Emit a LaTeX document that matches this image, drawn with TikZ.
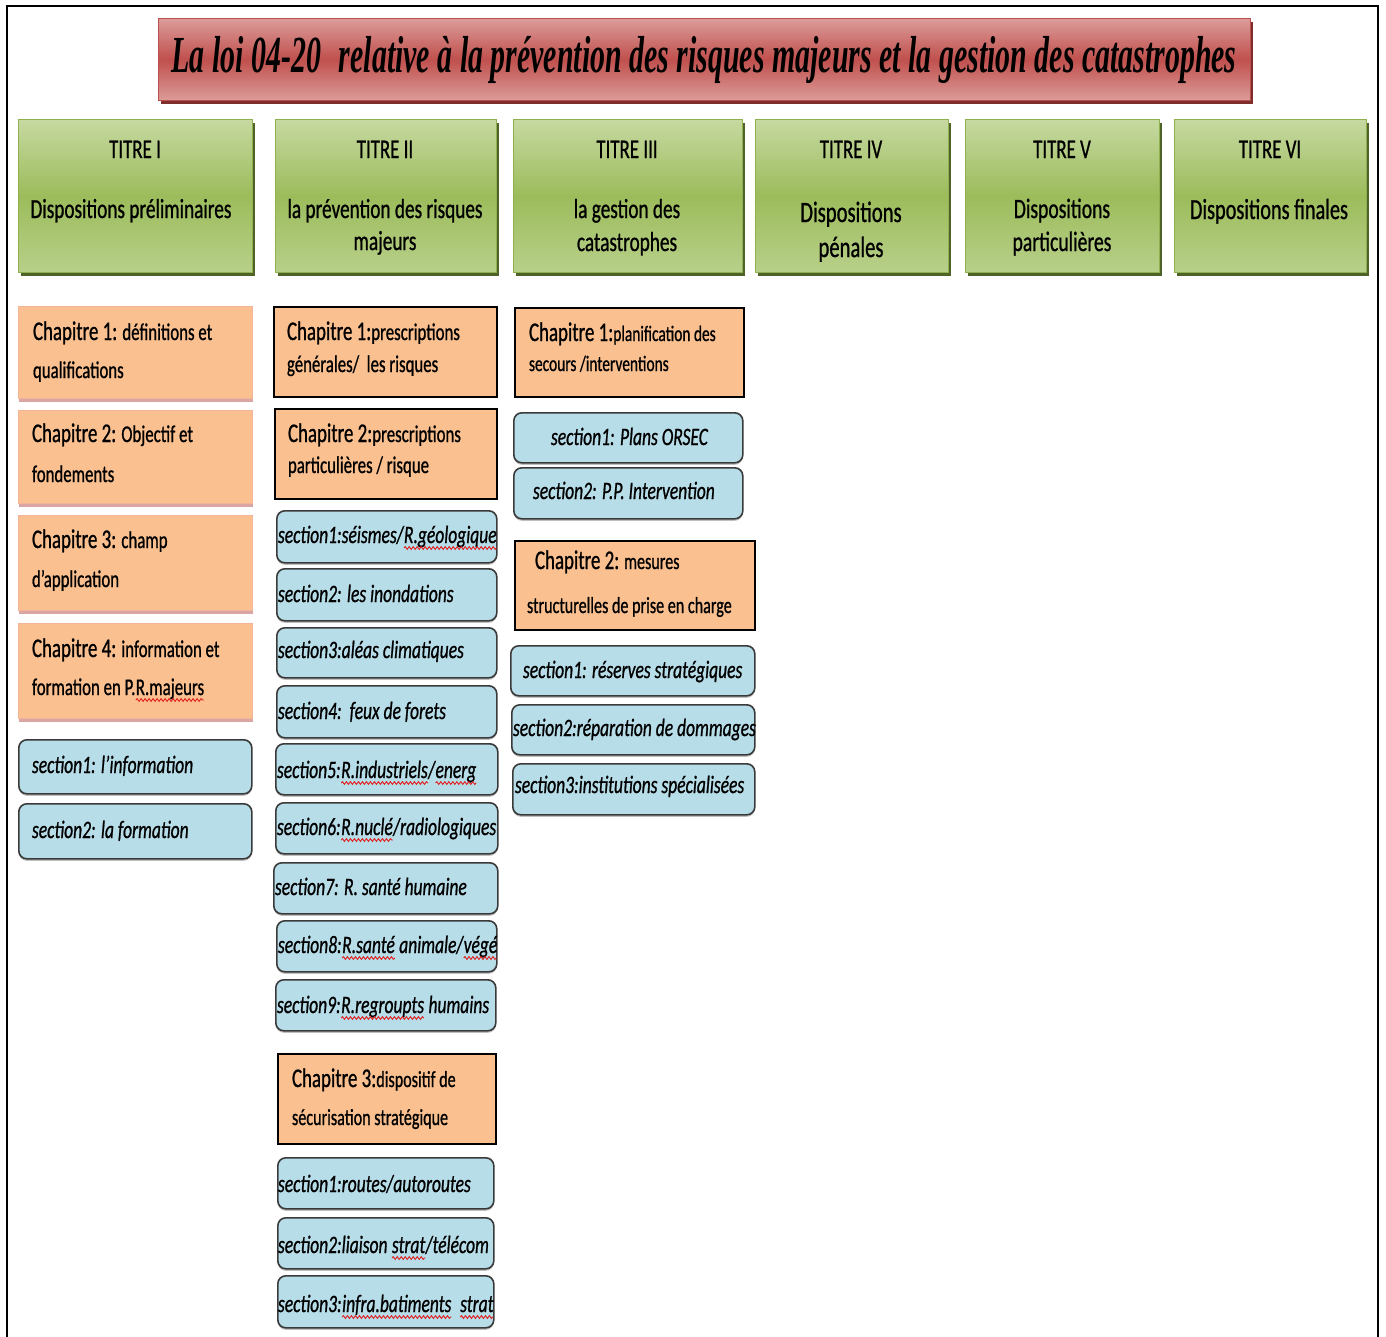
\documentclass[tikz,border=0pt]{standalone}
\usepackage{fontspec}
\usepackage{graphicx}
\setmainfont{Carlito}[FakeStretch=0.7,FakeBold=0.8]
\newfontfamily\headfont{Liberation Serif}
\usetikzlibrary{shadows,decorations.pathmorphing}

\definecolor{headlight}{HTML}{DC9C9A}
\definecolor{headmid}{HTML}{C0504D}
\definecolor{headedge}{HTML}{B9504D}
\definecolor{headshade}{HTML}{7F2E2C}
\definecolor{partlight}{HTML}{C6D9A1}
\definecolor{partmid}{HTML}{9CBC5B}
\definecolor{partlow}{HTML}{B8D08A}
\definecolor{partedge}{HTML}{8FB04F}
\definecolor{partshade}{HTML}{4F6228}
\definecolor{chapfill}{HTML}{FAC090}
\definecolor{chapedge}{HTML}{F3B49A}
\definecolor{chapshade}{HTML}{D9A6A4}
\definecolor{secfill}{HTML}{B7DDE8}
\definecolor{secedge}{HTML}{3A3A3A}
\definecolor{spellred}{HTML}{E02020}

% font size / line spacing shortcut
\newcommand\sz[2]{\fontsize{#1}{#2}\selectfont}
% word marked with a red wavy underline
\newcommand\spell[1]{\tikz[baseline=(spw.base)]{\node[inner sep=0pt,outer sep=0pt] (spw) {#1};\draw[spellred,line width=0.9pt,decorate,decoration={snake,amplitude=1.4pt,segment length=4pt}] ([yshift=-5pt]spw.base west) -- ([yshift=-5pt]spw.base east);}}
% box given by its corners: style, name, x1, y1, x2, y2
\newcommand\boxat[6]{\node[#1, minimum width={#5-#3}, minimum height={#6-#4}] (#2) at (#3,#4) {};}

\tikzset{
  headbar/.style={rectangle, inner sep=0pt, anchor=north west, draw=headedge, line width=1pt,
    top color=headlight, bottom color=headlight, middle color=headmid,
    drop shadow={shadow xshift=2pt, shadow yshift=-3pt, fill=headshade, opacity=1}},
  partbox/.style={rectangle, inner sep=0pt, anchor=north west, draw=partedge, line width=1pt,
    top color=partlight, bottom color=partlow, middle color=partmid,
    drop shadow={shadow xshift=2pt, shadow yshift=-3pt, fill=partshade, opacity=1}},
  chapsoft/.style={rectangle, inner sep=0pt, anchor=north west, fill=chapfill, draw=chapedge, line width=0.8pt,
    drop shadow={shadow xshift=1pt, shadow yshift=-4pt, fill=chapshade, opacity=1}},
  chapline/.style={rectangle, inner sep=0pt, anchor=north west, fill=chapfill, draw=black, line width=1.6pt},
  secbox/.style={rectangle, rounded corners=8pt, inner sep=0pt, anchor=north west, fill=secfill, draw=secedge, line width=1.6pt,
    drop shadow={shadow xshift=0pt, shadow yshift=-2pt, fill=black!25, opacity=1}},
  lbl/.style={anchor=base west, inner sep=0pt, outer sep=0pt},
  clbl/.style={anchor=base, inner sep=0pt, outer sep=0pt},
  sectxt/.style={lbl, font=\itshape\sz{25}{30}},
}

\begin{document}
\begin{tikzpicture}[x=1pt,y=-1pt]
\useasboundingbox (0,0) rectangle (1386,1336);

% frame
\coordinate (fa) at (7,1340);
\coordinate (fb) at (7,6);
\coordinate (fc) at (1378,6);
\coordinate (fd) at (1378,1340);
\draw[line width=2.4pt] (fa) -- (fb) -- (fc) -- (fd);

% heading
\boxat{headbar}{head}{158}{18}{1250}{100}
\node[clbl] (headtxt) at (704,72) {\resizebox{1065pt}{\height}{\headfont\bfseries\itshape\sz{52}{60}La loi 04-20\hspace{0.6em}relative à la prévention des risques majeurs et la gestion des catastrophes}};

% titles
\boxat{partbox}{g1}{18}{119}{252}{272}
\boxat{partbox}{g2}{275}{119}{496}{272}
\boxat{partbox}{g3}{513}{119}{742}{272}
\boxat{partbox}{g4}{755}{119}{948}{272}
\boxat{partbox}{g5}{965}{119}{1159}{272}
\boxat{partbox}{g6}{1174}{119}{1366}{272}

\node[clbl] (g1h) at (135,158) {\sz{27}{32}TITRE I};
\node[clbl] (g2h) at (385,158) {\sz{27}{32}TITRE II};
\node[clbl] (g3h) at (627,158) {\sz{27}{32}TITRE III};
\node[clbl] (g4h) at (851,158) {\sz{27}{32}TITRE IV};
\node[clbl] (g5h) at (1062,158) {\sz{27}{32}TITRE V};
\node[clbl] (g6h) at (1270,158) {\sz{27}{32}TITRE VI};

\node[clbl] (g1b) at (131,218) {\parbox[t]{230pt}{\centering\sz{27.5}{32}Dispositions préliminaires}};
\node[clbl] (g2b) at (385,218) {\parbox[t]{220pt}{\centering\sz{27.5}{32}la prévention des risques\\majeurs}};
\node[clbl] (g3b) at (627,218) {\parbox[t]{220pt}{\centering\sz{27.5}{33}la gestion des\\catastrophes}};
\node[clbl] (g4b) at (851,222) {\parbox[t]{190pt}{\centering\sz{29.5}{35}Dispositions\\pénales}};
\node[clbl] (g5b) at (1062,218) {\parbox[t]{190pt}{\centering\sz{28}{33}Dispositions\\particulières}};
\node[clbl] (g6b) at (1269,219) {\parbox[t]{190pt}{\centering\sz{29}{33}Dispositions finales}};

% TITRE I
\boxat{chapsoft}{c11}{18}{306}{252}{398}
\boxat{chapsoft}{c12}{18}{410}{252}{503}
\boxat{chapsoft}{c13}{18}{515}{252}{610}
\boxat{chapsoft}{c14}{18}{623}{252}{718}
\node[lbl] (c11t) at (33,340) {\parbox[t]{230pt}{\raggedright\sz{24}{38}{\sz{27}{38}Chapitre 1:} définitions et\\qualifications}};
\node[lbl] (c12t) at (32,442) {\parbox[t]{230pt}{\raggedright\sz{24}{40}{\sz{27}{40}Chapitre 2:} Objectif et\\fondements}};
\node[lbl] (c13t) at (32,548) {\parbox[t]{230pt}{\raggedright\sz{24}{39}{\sz{27}{39}Chapitre 3:} champ\\d'application}};
\node[lbl] (c14t) at (32,657) {\parbox[t]{230pt}{\raggedright\sz{24}{38}{\sz{27}{38}Chapitre 4:} information et\\formation en P.\spell{R.majeurs}}};

\boxat{secbox}{s11}{18}{739}{251}{793}
\boxat{secbox}{s12}{18}{803}{251}{858}
\node[sectxt] (s11t) at (32,773) {section1: l'information};
\node[sectxt] (s12t) at (32,838) {section2: la formation};

% TITRE II
\boxat{chapline}{c21}{273}{306}{496}{396}
\boxat{chapline}{c22}{274}{408}{496}{498}
\node[lbl] (c21t) at (287,340) {\parbox[t]{220pt}{\raggedright\sz{24}{32}{\sz{27}{32}Chapitre 1:}prescriptions\\générales/\ \ les risques}};
\node[lbl] (c22t) at (288,442) {\parbox[t]{220pt}{\raggedright\sz{24}{31}{\sz{27}{31}Chapitre 2:}prescriptions\\particulières / risque}};

\boxat{secbox}{s21}{276}{510}{496}{562}
\boxat{secbox}{s22}{276}{568}{496}{620}
\boxat{secbox}{s23}{276}{627}{496}{677}
\boxat{secbox}{s24}{276}{685}{496}{737}
\boxat{secbox}{s25}{275}{743}{497}{794}
\boxat{secbox}{s26}{275}{802}{497}{853}
\boxat{secbox}{s27}{273}{862}{497}{913}
\boxat{secbox}{s28}{276}{920}{496}{971}
\boxat{secbox}{s29}{275}{979}{495}{1030}
\node[sectxt] (s21t) at (278,543) {section1:séismes/\spell{R.géologique}};
\node[sectxt] (s22t) at (278,602) {section2: les inondations};
\node[sectxt] (s23t) at (278,658) {section3:aléas climatiques};
\node[sectxt] (s24t) at (278,719) {section4:\ \ feux de forets};
\node[sectxt] (s25t) at (277,778) {section5:\spell{R.industriels}/\spell{energ}};
\node[sectxt] (s26t) at (277,835) {section6:\spell{R.nuclé}/radiologiques};
\node[sectxt] (s27t) at (275,895) {section7: R. santé humaine};
\node[sectxt] (s28t) at (278,953) {section8:\spell{R.santé} animale/\spell{végé}};
\node[sectxt] (s29t) at (277,1013) {section9:\spell{R.regroupts} humains};

\boxat{chapline}{c23}{277}{1053}{495}{1143}
\node[lbl] (c23t) at (292,1087) {\parbox[t]{210pt}{\raggedright\sz{23}{38}{\sz{27}{38}Chapitre 3:}dispositif de\\sécurisation stratégique}};

\boxat{secbox}{s2a}{277}{1157}{493}{1208}
\boxat{secbox}{s2b}{277}{1217}{493}{1268}
\boxat{secbox}{s2c}{277}{1275}{493}{1327}
\node[sectxt] (s2at) at (278,1192) {section1:routes/autoroutes};
\node[sectxt] (s2bt) at (278,1253) {section2:liaison \spell{strat}/télécom};
\node[sectxt] (s2ct) at (278,1312) {section3:\spell{infra.batiments}\ \ \spell{strat}};

% TITRE III
\boxat{chapline}{c31}{514}{307}{743}{396}
\node[lbl] (c31t) at (529,341) {\parbox[t]{220pt}{\raggedright\sz{22}{30}{\sz{27}{30}Chapitre 1:}planification des\\secours /interventions}};

\boxat{secbox}{s31}{513}{412}{742}{462}
\boxat{secbox}{s32}{513}{467}{742}{518}
\node[sectxt] (s31t) at (551,445) {section1: Plans ORSEC};
\node[sectxt] (s32t) at (533,499) {section2: P.P. Intervention};

\boxat{chapline}{c32}{514}{540}{754}{629}
\node[lbl] (c32t) at (527,569) {\parbox[t]{230pt}{\raggedright\sz{23}{44}\hspace*{8pt}{\sz{27}{44}Chapitre 2:} mesures\\structurelles de prise en charge}};

\boxat{secbox}{s33}{510}{645}{754}{695}
\boxat{secbox}{s34}{511}{704}{754}{754}
\boxat{secbox}{s35}{512}{763}{754}{814}
\node[sectxt] (s33t) at (523,678) {section1: réserves stratégiques};
\node[sectxt] (s34t) at (513,736) {section2:réparation de dommages};
\node[sectxt] (s35t) at (515,793) {section3:institutions spécialisées};

\end{tikzpicture}
\end{document}
